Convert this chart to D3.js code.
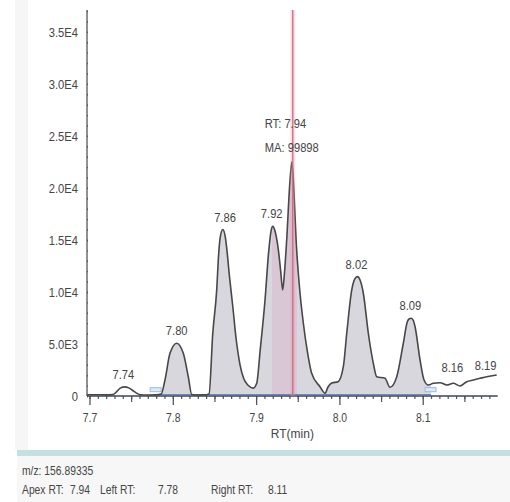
<!DOCTYPE html>
<html>
<head>
<meta charset="utf-8">
<script src="https://cdn.jsdelivr.net/npm/d3@7"></script>
<style>
  html, body { margin: 0; padding: 0; background: #fff; }
  svg { display: block; }
  text { font-family: "Liberation Sans", Arial, sans-serif; fill: #454545; }
</style>
</head>
<body>
<svg id="chart" width="510" height="502"></svg>
<script>
// Extracted ion chromatogram: retention time (min) and intensity
const rtValues = [
  7.697, 7.710, 7.720, 7.728, 7.733, 7.737, 7.7426, 7.747, 7.751, 7.756, 7.761, 7.770,
  7.780, 7.786, 7.7906, 7.7966, 7.8047, 7.8126, 7.8186, 7.8227, 7.830, 7.840,
  7.8435, 7.848, 7.8527, 7.855, 7.857, 7.860, 7.863, 7.865, 7.868, 7.872, 7.876, 7.8807, 7.885, 7.890, 7.8966,
  7.9007, 7.905, 7.9107, 7.915, 7.918, 7.920, 7.9225, 7.9267, 7.9295, 7.9319,
  7.934, 7.9367, 7.9405, 7.943, 7.9455, 7.948, 7.952, 7.9567, 7.9617, 7.9667, 7.9767, 7.9827,
  7.9863, 7.9908, 7.9983, 8.0047, 8.0088, 8.0148, 8.0185, 8.0215, 8.0250, 8.0287, 8.0347, 8.0407, 8.0448,
  8.0547, 8.0607, 8.0688, 8.0767, 8.0815, 8.0840, 8.0860, 8.0885, 8.0908, 8.0968, 8.1016, 8.1067,
  8.1127, 8.1208, 8.1288, 8.1367, 8.1448, 8.1528, 8.1608, 8.1688, 8.1768, 8.1888
];
const intensities = [
  120, 120, 110, 130, 450, 760, 880, 780, 580, 300, 120, 100,
  110, 180, 1540, 4100, 5070, 4100, 1850, 150, 100, 110,
  200, 6060, 10200, 13600, 15300, 16000, 15300, 14000, 11500, 8600, 5500, 3000, 1700, 1050, 760,
  1220, 4500, 9230, 13800, 15900, 16300, 15900, 14040, 12000, 10190,
  11800, 15000, 20500, 22500, 19500, 15000, 10500, 6990, 4200, 2180, 890, 260,
  865, 1250, 1375, 2820, 6030, 10190, 11250, 11470, 11100, 9875, 6030, 3140, 1855,
  1700, 835, 1855, 5070, 7140, 7420, 7470, 7300, 6660, 3460, 1540, 1060,
  1220, 1280, 1060, 1220, 960, 1375, 1540, 1700, 1855, 2020
];

// Peak annotations
const peakLabels = ["7.74", "7.80", "7.86", "7.92", "8.02", "8.09", "8.16", "8.19"];
const peakLabelRT = [7.7406, 7.8047, 7.8627, 7.9187, 8.0205, 8.0852, 8.1355, 8.1755];
const peakLabelIntensity = [880, 5070, 16000, 16300, 11470, 7470, 1540, 1730];

// Selected peak
const apexRT = 7.944;
const apexIntensity = 22500;
const apexArea = "99898";
const leftRT = 7.78;
const rightRT = 8.11;
const mzValue = "156.89335";

// Axis ticks
const xMajorTicks = [7.7, 7.8, 7.9, 8.0, 8.1];
const xMidTicks = [7.75, 7.85, 7.95, 8.05, 8.15];
const xMinorTicks = d3.range(770, 819).map(d => d / 100);
const yMajorTicks = [0, 5000, 10000, 15000, 20000, 25000, 30000, 35000];
const yMinorTicks = d3.range(0, 37001, 1000);

// narrow the glyphs horizontally about each text's own anchor point
function squeeze(sel, k) {
  sel.each(function () {
    const t = d3.select(this);
    const tx = +t.attr("x") || 0, ty = +t.attr("y") || 0;
    t.attr("transform", `translate(${tx},${ty}) scale(${k},1) translate(${-tx},${-ty})`);
  });
}

const svg = d3.select("#chart");

// panel decorations
svg.append("rect").attr("x", 0).attr("y", 0).attr("width", 510).attr("height", 502).attr("fill", "#fff");
svg.append("rect").attr("x", 15).attr("y", 0).attr("width", 13).attr("height", 450).attr("fill", "#f6f6f6");
svg.append("rect").attr("x", 17).attr("y", 456).attr("width", 493).attr("height", 46).attr("fill", "#f7f7f7");
svg.append("rect").attr("x", 17).attr("y", 450).attr("width", 493).attr("height", 6).attr("fill", "#c4e0df");

const x = d3.scaleLinear().domain([7.697, 8.19]).range([87, 497.7]);
const y = d3.scaleLinear().domain([0, 37100]).range([396, 10]);

const pts = rtValues.map((r, i) => ({ rt: r, v: intensities[i] }));

// integrated region
svg.append("clipPath").attr("id", "integ")
  .append("rect")
  .attr("x", x(leftRT)).attr("y", 0)
  .attr("width", x(rightRT) - x(leftRT)).attr("height", 396);

const area = d3.area().x(d => x(d.rt)).y0(y(0)).y1(d => y(d.v)).curve(d3.curveMonotoneX);
svg.append("path").datum(pts)
  .attr("d", area)
  .attr("fill", "#d7d7dd")
  .attr("clip-path", "url(#integ)");

// highlight of the selected apex peak
svg.append("clipPath").attr("id", "apexBand")
  .append("rect")
  .attr("x", x(7.919)).attr("y", 0)
  .attr("width", x(7.949) - x(7.919)).attr("height", 396);
svg.append("path").datum(pts)
  .attr("d", area)
  .attr("fill", "rgba(222,176,204,0.4)")
  .attr("clip-path", "url(#apexBand)");

// axes
const yAxisMinor = svg.append("g").attr("transform", `translate(${x(7.697)},0)`)
  .call(d3.axisLeft(y).tickValues(yMinorTicks).tickSize(4).tickFormat(""));
yAxisMinor.select(".domain").remove();
yAxisMinor.selectAll(".tick line").attr("x2", 1).attr("stroke", "#555").attr("stroke-width", 1.4);

const yAxis = svg.append("g").attr("transform", `translate(${x(7.697)},0)`)
  .call(d3.axisLeft(y).tickValues(yMajorTicks).tickSize(7).tickPadding(2)
    .tickFormat(v => v === 0 ? "0" : v.toExponential(1).replace("e+", "E")));
yAxis.select(".domain").remove();
yAxis.selectAll(".tick line").attr("x2", 1).attr("stroke", "#555").attr("stroke-width", 1.4);
yAxis.selectAll("text").attr("font-size", 13).style("fill", "#454545").attr("font-family", null);
squeeze(yAxis.selectAll("text"), 0.86);
svg.append("line").attr("x1", x(7.697)).attr("x2", x(7.697)).attr("y1", y(37100)).attr("y2", y(0))
  .attr("stroke", "#555").attr("stroke-width", 1.3);

const xMinor = svg.append("g").attr("transform", `translate(0,${y(0)})`)
  .call(d3.axisBottom(x).tickValues(xMinorTicks).tickSize(3).tickFormat(""));
xMinor.select(".domain").remove();
xMinor.selectAll(".tick line").attr("stroke", "#555").attr("stroke-width", 1.2);

const xMid = svg.append("g").attr("transform", `translate(0,${y(0)})`)
  .call(d3.axisBottom(x).tickValues(xMidTicks).tickSize(6).tickFormat(""));
xMid.select(".domain").remove();
xMid.selectAll(".tick line").attr("stroke", "#555").attr("stroke-width", 1.2);

const xAxis = svg.append("g").attr("transform", `translate(0,${y(0)})`)
  .call(d3.axisBottom(x).tickValues(xMajorTicks).tickSize(9).tickPadding(8).tickFormat(d3.format(".1f")));
xAxis.select(".domain").remove();
xAxis.selectAll(".tick line").attr("stroke", "#555").attr("stroke-width", 1.3);
xAxis.selectAll("text").attr("font-size", 13).style("fill", "#454545").attr("font-family", null);
squeeze(xAxis.selectAll("text"), 0.8);

svg.append("line").attr("x1", x(7.697)).attr("x2", x(8.19)).attr("y1", y(0)).attr("y2", y(0))
  .attr("stroke", "#3c4658").attr("stroke-width", 1.6);

// integration baseline and boundary markers
svg.append("line").attr("x1", x(leftRT)).attr("x2", x(rightRT)).attr("y1", y(120)).attr("y2", y(120))
  .attr("stroke", "#4f6fa8").attr("stroke-width", 1.2);
[leftRT, rightRT].forEach(r => {
  svg.append("rect").attr("x", x(r) - 6).attr("y", y(800)).attr("width", 11).attr("height", 4)
    .attr("fill", "#dde8f5").attr("stroke", "#9fbbe0").attr("stroke-width", 1);
});

// trace
const line = d3.line().x(d => x(d.rt)).y(d => y(d.v)).curve(d3.curveMonotoneX);
svg.append("path").datum(pts)
  .attr("d", line)
  .attr("fill", "none")
  .attr("stroke", "#474747")
  .attr("stroke-width", 1.6)
  .attr("stroke-linejoin", "round");

// apex marker line
svg.append("line").attr("x1", x(apexRT)).attr("x2", x(apexRT)).attr("y1", y(37100)).attr("y2", y(0))
  .attr("stroke", "rgba(228,150,170,0.3)").attr("stroke-width", 5);
svg.append("line").attr("x1", x(apexRT)).attr("x2", x(apexRT)).attr("y1", y(37100)).attr("y2", y(0))
  .attr("stroke", "#cf6a80").attr("stroke-width", 1.3);

// peak labels
const peakText = svg.append("g").selectAll("text").data(peakLabels).join("text")
  .attr("x", (d, i) => x(peakLabelRT[i]))
  .attr("y", (d, i) => y(peakLabelIntensity[i]) - 8)
  .attr("text-anchor", "middle")
  .attr("font-size", 13)
  .text(d => d);
squeeze(peakText, 0.86);

const apexText = svg.append("g");
apexText.append("text").attr("x", x(apexRT) - 28).attr("y", y(apexIntensity) - 34)
  .attr("font-size", 13).text("RT: " + apexRT.toFixed(2));
apexText.append("text").attr("x", x(apexRT) - 28).attr("y", y(apexIntensity) - 10)
  .attr("font-size", 13).text("MA: " + apexArea);
squeeze(apexText.selectAll("text"), 0.86);

// axis title
svg.append("text").attr("x", (x(7.697) + x(8.19)) / 2).attr("y", 438)
  .attr("text-anchor", "middle").attr("font-size", 12).text("RT(min)");

// footer
const footer = svg.append("g");
footer.append("text").attr("x", 22).attr("y", 475).attr("font-size", 12).text("m/z: " + mzValue);
const footerKeys = ["Apex RT:", "Left RT:", "Right RT:"];
const footerVals = [apexRT.toFixed(2), leftRT.toFixed(2), rightRT.toFixed(2)];
const footerKeyX = [22, 100, 211];
const footerValX = [70, 158, 268];
footerKeys.forEach((k, i) => {
  footer.append("text").attr("x", footerKeyX[i]).attr("y", 494).attr("font-size", 12).text(k);
  footer.append("text").attr("x", footerValX[i]).attr("y", 494).attr("font-size", 12).text(footerVals[i]);
});
squeeze(footer.selectAll("text"), 0.86);
</script>
</body>
</html>
